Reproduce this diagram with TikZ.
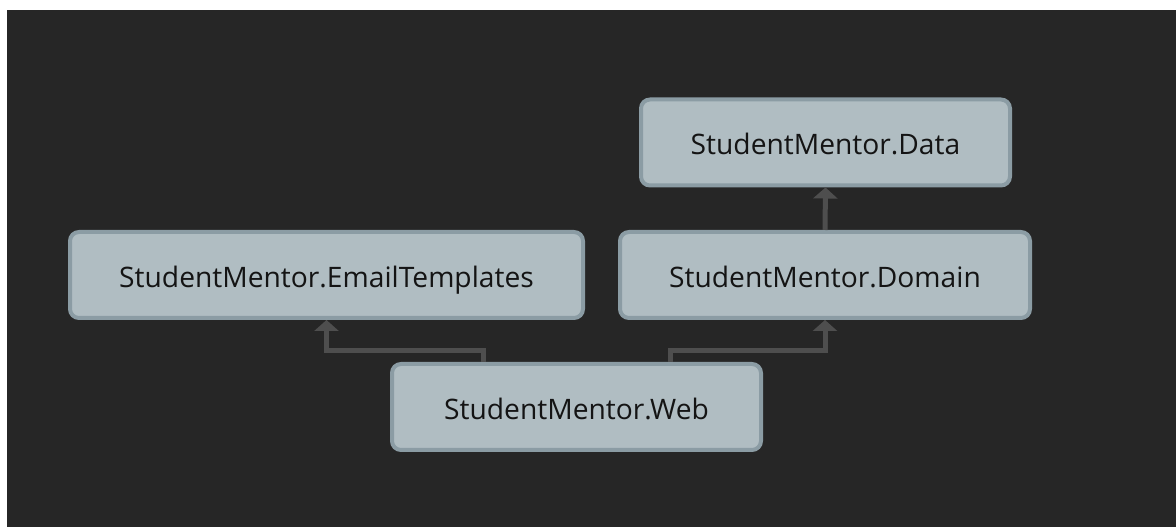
\documentclass[tikz,border=0pt]{standalone}
\usepackage{fontspec}
\setmainfont{Open Sans}
\usetikzlibrary{arrows.meta}
\definecolor{bgdark}{HTML}{262626}
\definecolor{nodefill}{HTML}{B0BDC2}
\definecolor{nodeedge}{HTML}{8B9CA4}
\definecolor{arrcol}{HTML}{4E4E4E}
\tikzset{
  box/.style={draw=nodeedge, line width=4pt, fill=nodefill, rounded corners=9pt,
    inner sep=0pt, minimum height=86pt, text=black!92,
    text height=25pt, text depth=0pt,
    font=\fontsize{28.2}{32}\selectfont},
  dep/.style={draw=arrcol, line width=5pt, -{Triangle[width=24pt,length=11pt]}}
}
\begin{document}
\begin{tikzpicture}[x=1pt,y=1pt]
\useasboundingbox (0,0) rectangle (1176,527);
\fill[white] (0,0) rectangle (1176,527);
\fill[bgdark] (7,0) rectangle (1176,517);
\node[box, minimum width=369pt] (data) at (825.5,384.5) {StudentMentor.Data};
\node[box, minimum width=410pt] (domain) at (825,252) {StudentMentor.Domain};
\node[box, minimum width=513pt] (email) at (326.5,252) {StudentMentor.EmailTemplates};
\node[box, minimum width=369pt] (web) at (576.5,120) {StudentMentor.Web};
\draw[dep] ([xshift=-93.5pt]web.north) -- ++(0,11pt) -| (email.south);
\draw[dep] ([xshift=93.5pt]web.north) -- ++(0,11pt) -| (domain.south);
\draw[dep] (domain.north) -- (data.south);
\end{tikzpicture}
\end{document}
